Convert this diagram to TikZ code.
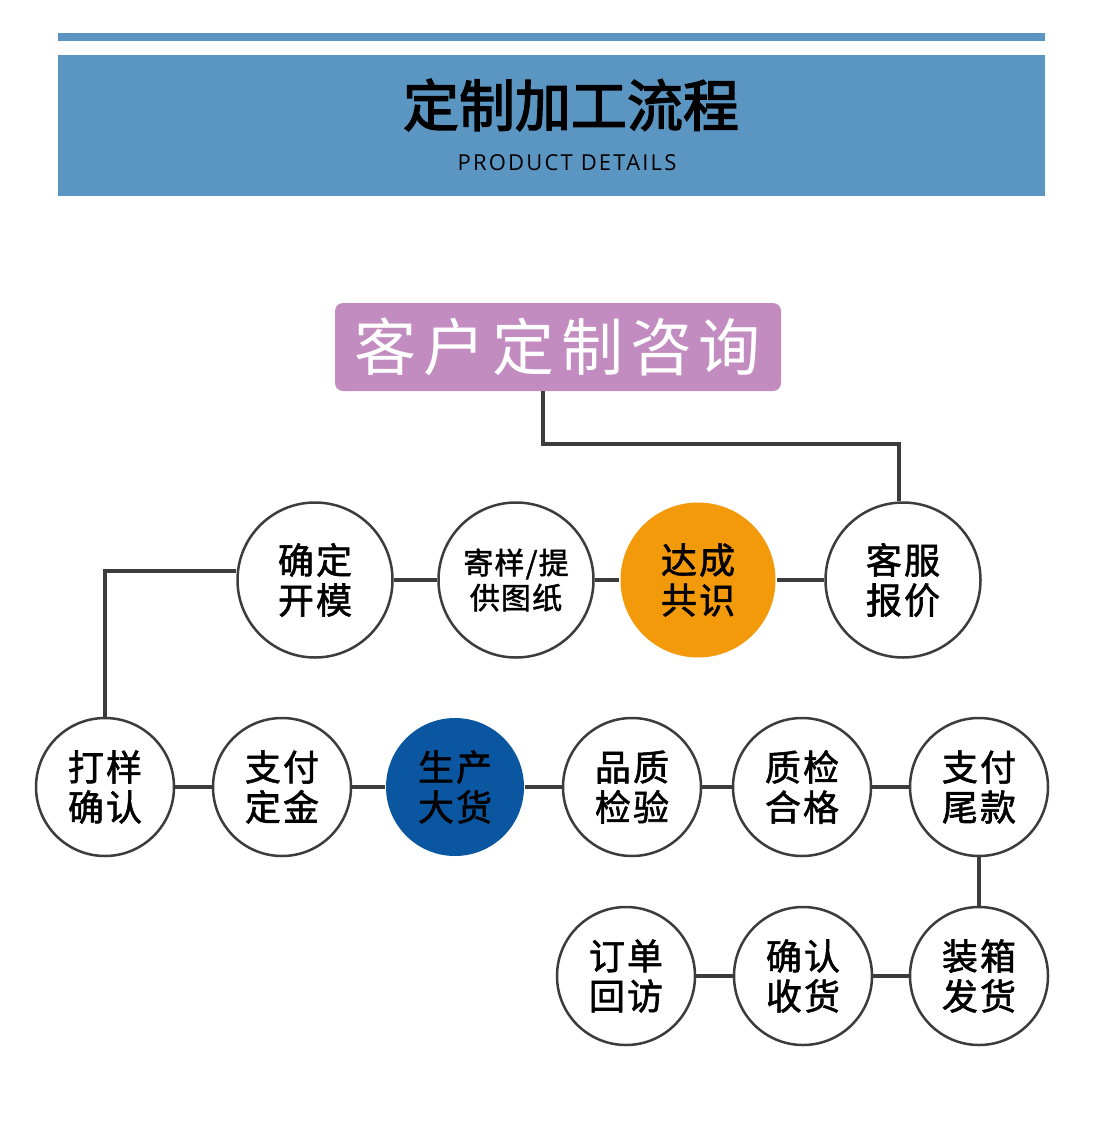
\documentclass[tikz,border=0pt]{standalone}
\usepackage{fontspec}
\newfontfamily\cjk{Noto Sans CJK SC}
\newfontfamily\cjkmid[FakeBold=1.6]{Noto Sans CJK SC}
\newfontfamily\cjkhead[FakeBold=2.6]{Noto Sans CJK SC}
\newfontfamily\latinsans{Open Sans}
\definecolor{headblue}{HTML}{5B96C2}
\definecolor{consultpurple}{HTML}{C38CC0}
\definecolor{agreeorange}{HTML}{F39A0A}
\definecolor{bulkblue}{HTML}{0B56A1}
\definecolor{linegray}{HTML}{3C3C3C}
\tikzset{
  stage/.style={circle, draw=linegray, line width=2.5pt, fill=white,
    minimum size=138pt, inner sep=0pt, align=center,
    font=\cjkmid\fontsize{36}{40}\selectfont\addfontfeature{LetterSpace=6}},
  bigstage/.style={stage, minimum size=155pt},
  link/.style={draw=linegray, line width=4pt},
}
\begin{document}
\begin{tikzpicture}[x=1pt, y=-1pt]
        \useasboundingbox [fill=white] (0,0) rectangle (1099,1137);
        % header
        \fill [headblue] (58,33) rectangle (1045,41);
        \fill [headblue] (58,55) rectangle (1045,196);
        \node [font=\cjkhead\fontsize{56}{56}\selectfont] (title) at (571,105) {定制加工流程};
        \node [font=\latinsans\fontsize{22}{22}\selectfont\addfontfeature{LetterSpace=10}] (subtitle) at (567,163) {PRODUCT DETAILS};
        % consultation
        \node [fill=consultpurple, rounded corners=8pt, minimum width=446pt, minimum height=88pt,
          text=white, font=\cjk\fontsize{62}{62}\selectfont\addfontfeature{LetterSpace=11}] (consult) at (558,347) {客户定制咨询};
        % first row
        \node [bigstage] (mold) at (315,580) {确定\\开模};
        \node [bigstage, font=\cjkmid\fontsize{30}{35}\selectfont\addfontfeature{LetterSpace=4}] (sample) at (516,580) {寄样/提\\供图纸};
        \node [bigstage, fill=agreeorange, draw=none] (agree) at (698,580) {达成\\共识};
        \node [bigstage] (quote) at (903,580) {客服\\报价};
        % second row
        \node [stage] (proof) at (105,787) {打样\\确认};
        \node [stage] (deposit) at (282,787) {支付\\定金};
        \node [stage, fill=bulkblue, draw=none] (produce) at (455,787) {生产\\大货};
        \node [stage] (inspect) at (632,787) {品质\\检验};
        \node [stage] (passed) at (802,787) {质检\\合格};
        \node [stage] (balance) at (979,787) {支付\\尾款};
        % third row
        \node [stage] (visit) at (626,976) {订单\\回访};
        \node [stage] (receive) at (803,976) {确认\\收货};
        \node [stage] (ship) at (979,976) {装箱\\发货};
        % connectors
        \draw [link] ([xshift=-15pt]consult.south) -- ++(0,53) -| ([xshift=-4pt]quote.north);
        \draw [link] (quote) -- (agree);
        \draw [link] (agree) -- (sample);
        \draw [link] (sample) -- (mold);
        \draw [link] ([yshift=9pt]mold.west) -| (proof.north);
        \draw [link] (proof) -- (deposit);
        \draw [link] (deposit) -- (produce);
        \draw [link] (produce) -- (inspect);
        \draw [link] (inspect) -- (passed);
        \draw [link] (passed) -- (balance);
        \draw [link] (balance) -- (ship);
        \draw [link] (ship) -- (receive);
        \draw [link] (receive) -- (visit);
    \end{tikzpicture}
\end{document}
